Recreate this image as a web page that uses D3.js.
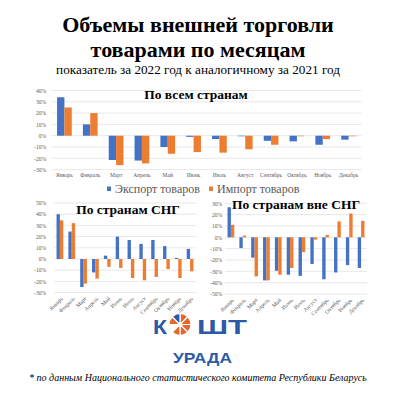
<!DOCTYPE html>
<html>
<head>
<meta charset="utf-8">
<script src="https://cdn.jsdelivr.net/npm/d3@7"></script>
<style>
  body { margin: 0; background: #fff; }
  svg text { font-family: "Liberation Serif", "Times New Roman", serif; }
</style>
</head>
<body>
<div id="chart"></div>
<script>
// months
const months = ['Январь','Февраль','Март','Апрель','Май','Июнь','Июль','Август','Сентябрь','Октябрь','Ноябрь','Декабрь']

// % change 2022 vs 2021
const allExport = [34, 10, -21.5, -22, -10, -1, -3, -0.5, -4.5, -5, -8, -3.5]
const allImport = [25, 20, -26, -24.5, -16, -14.5, -15, -12, -8, -0.5, -3, -0.5]
const cisExport = [40, 24.5, -25, -12, 3, 20, 17, 13.5, 17, 11.5, 1, 9]
const cisImport = [34.5, 32, -22, -17.5, -7, -8, -17, -19, -16, -9, -17, -11]
const nonExport = [26.5, -9.5, -18, -38, -29.5, -33, -34, -23.5, -37, -31, -24.5, -27]
const nonImport = [11, 1.5, -34.5, -38, -33, -27, -13, -2, 2, 14, 21, 14.5]

const seriesNames = ['Экспорт товаров', 'Импорт товаров']
const colors = ['#4472c4', '#ed7d31']

const svg = d3.select('#chart').append('svg')
  .attr('width', 397)
  .attr('height', 396)

// titles
svg.append('text').attr('x', 198).attr('y', 32)
  .attr('text-anchor', 'middle').style('font-weight', 'bold').style('font-size', '22px')
  .text('Объемы внешней торговли')
svg.append('text').attr('x', 198).attr('y', 56.5)
  .attr('text-anchor', 'middle').style('font-weight', 'bold').style('font-size', '22px')
  .text('товарами по месяцам')
svg.append('text').attr('x', 198).attr('y', 74)
  .attr('text-anchor', 'middle').style('font-size', '13.2px')
  .text('показатель за 2022 год к аналогичному за 2021 год')

function drawChart(cfg) {
  const g = svg.append('g')

  const x = d3.scaleBand()
    .domain(months)
    .range(cfg.xRange)
    .paddingInner(0.43)
    .paddingOuter(0.215)
  const x1 = d3.scaleBand()
    .domain([0, 1])
    .range([0, x.bandwidth()])
  const y = d3.scaleLinear()
    .domain(cfg.yDomain)
    .range(cfg.yRange)

  const ticks = d3.range(cfg.yDomain[0], cfg.yDomain[1] + 1, 10)

  // gridlines
  g.append('g')
    .selectAll('line')
    .data(ticks)
    .join('line')
      .attr('x1', cfg.xRange[0])
      .attr('x2', cfg.xRange[1])
      .attr('y1', d => y(d))
      .attr('y2', d => y(d))
      .attr('stroke', '#d9d9d9')
      .attr('stroke-width', 0.6)

  // y labels
  const yAxis = g.append('g')
    .attr('transform', `translate(${cfg.labelX},0)`)
    .call(d3.axisLeft(y).tickValues(ticks).tickSize(0).tickPadding(0).tickFormat(d => d + '%'))
  yAxis.select('.domain').remove()
  yAxis.selectAll('text').style('font-size', '5.5px').attr('fill', '#595959')
    .style('font-family', '"Liberation Serif", serif')

  // bars
  const series = [cfg.exp, cfg.imp]
  series.forEach((vals, si) => {
    g.append('g')
      .selectAll('rect')
      .data(vals)
      .join('rect')
        .attr('x', (d, i) => x(months[i]) + x1(si))
        .attr('width', x1.bandwidth())
        .attr('y', d => y(Math.max(0, d)))
        .attr('height', d => Math.abs(y(d) - y(0)))
        .attr('fill', colors[si])
  })

  // x labels
  const xAxis = g.append('g')
    .attr('transform', `translate(0,${cfg.yRange[0]})`)
    .call(d3.axisBottom(x).tickSize(0).tickPadding(cfg.rotate ? 0 : 4))
  xAxis.select('.domain').remove()
  const xt = xAxis.selectAll('text').style('font-size', '5.5px').attr('fill', '#595959')
    .style('font-family', '"Liberation Serif", serif')
  if (cfg.rotate) {
    xt.attr('y', 0).attr('x', 0).attr('dy', '0.35em')
      .attr('text-anchor', 'end')
      .attr('transform', 'translate(2,5) rotate(-45)')
  }

  // chart title
  g.append('text')
    .attr('x', cfg.titleX).attr('y', cfg.titleY)
    .attr('text-anchor', 'middle')
    .style('font-weight', 'bold').style('font-size', cfg.titleSize)
    .text(cfg.title)
}

drawChart({
  exp: allExport, imp: allImport,
  xRange: [51.5, 361.5], yDomain: [-30, 40], yRange: [169.6, 90.5],
  labelX: 46, title: 'По всем странам', titleX: 196, titleY: 99, titleSize: '13.5px'
})
drawChart({
  exp: cisExport, imp: cisImport,
  xRange: [54, 196], yDomain: [-30, 50], yRange: [292.6, 203],
  labelX: 46, rotate: true, title: 'По странам СНГ', titleX: 128, titleY: 214, titleSize: '13.5px'
})
drawChart({
  exp: nonExport, imp: nonImport,
  xRange: [225, 367], yDomain: [-50, 30], yRange: [294, 203.3],
  labelX: 222, rotate: true, title: 'По странам вне СНГ', titleX: 296, titleY: 209, titleSize: '13.5px'
})

// legend
const legendX = [107, 209]
seriesNames.forEach((name, i) => {
  svg.append('rect')
    .attr('x', legendX[i]).attr('y', 186.5)
    .attr('width', 4).attr('height', 4.5)
    .attr('fill', colors[i])
  svg.append('text')
    .attr('x', legendX[i] + 8).attr('y', 193)
    .style('font-size', '12px').attr('fill', '#595959')
    .text(name)
})

// logo
const logoBlue = '#2d5aa6'
const logoOrange = '#e8652c'
const logo = svg.append('g')
logo.append('text').attr('x', 153).attr('y', 333.5)
  .attr('fill', logoBlue).style('font-weight', 'bold').style('font-size', '21px')
  .style('font-family', '"Liberation Sans", sans-serif')
  .attr('textLength', 14).attr('lengthAdjust', 'spacingAndGlyphs')
  .text('К')
logo.append('text').attr('x', 197).attr('y', 333.5)
  .attr('fill', logoBlue).style('font-weight', 'bold').style('font-size', '21px')
  .style('font-family', '"Liberation Sans", sans-serif')
  .attr('textLength', 50).attr('lengthAdjust', 'spacingAndGlyphs')
  .text('ШТ')
logo.append('text').attr('x', 173).attr('y', 362.5)
  .attr('fill', logoBlue).style('font-weight', 'bold').style('font-size', '14px')
  .style('font-family', '"Liberation Sans", sans-serif')
  .attr('textLength', 59).attr('lengthAdjust', 'spacingAndGlyphs')
  .text('УРАДА')

const slices = d3.range(8)
const arc = d3.arc().innerRadius(2).outerRadius(11)
logo.append('g')
  .attr('transform', 'translate(180,324.5)')
  .selectAll('path')
  .data(slices.filter(d => d !== 5))
  .join('path')
    .attr('d', d => arc({startAngle: d * Math.PI / 4, endAngle: (d + 1) * Math.PI / 4}))
    .attr('fill', d => d === 7 ? logoBlue : logoOrange)
    .attr('stroke', '#fff')
    .attr('stroke-width', 1.2)

// footnote
svg.append('text')
  .attr('x', 198).attr('y', 381)
  .attr('text-anchor', 'middle')
  .style('font-style', 'italic').style('font-size', '10px')
  .text('* по данным Национального статистического комитета Республики Беларусь')
</script>
</body>
</html>
